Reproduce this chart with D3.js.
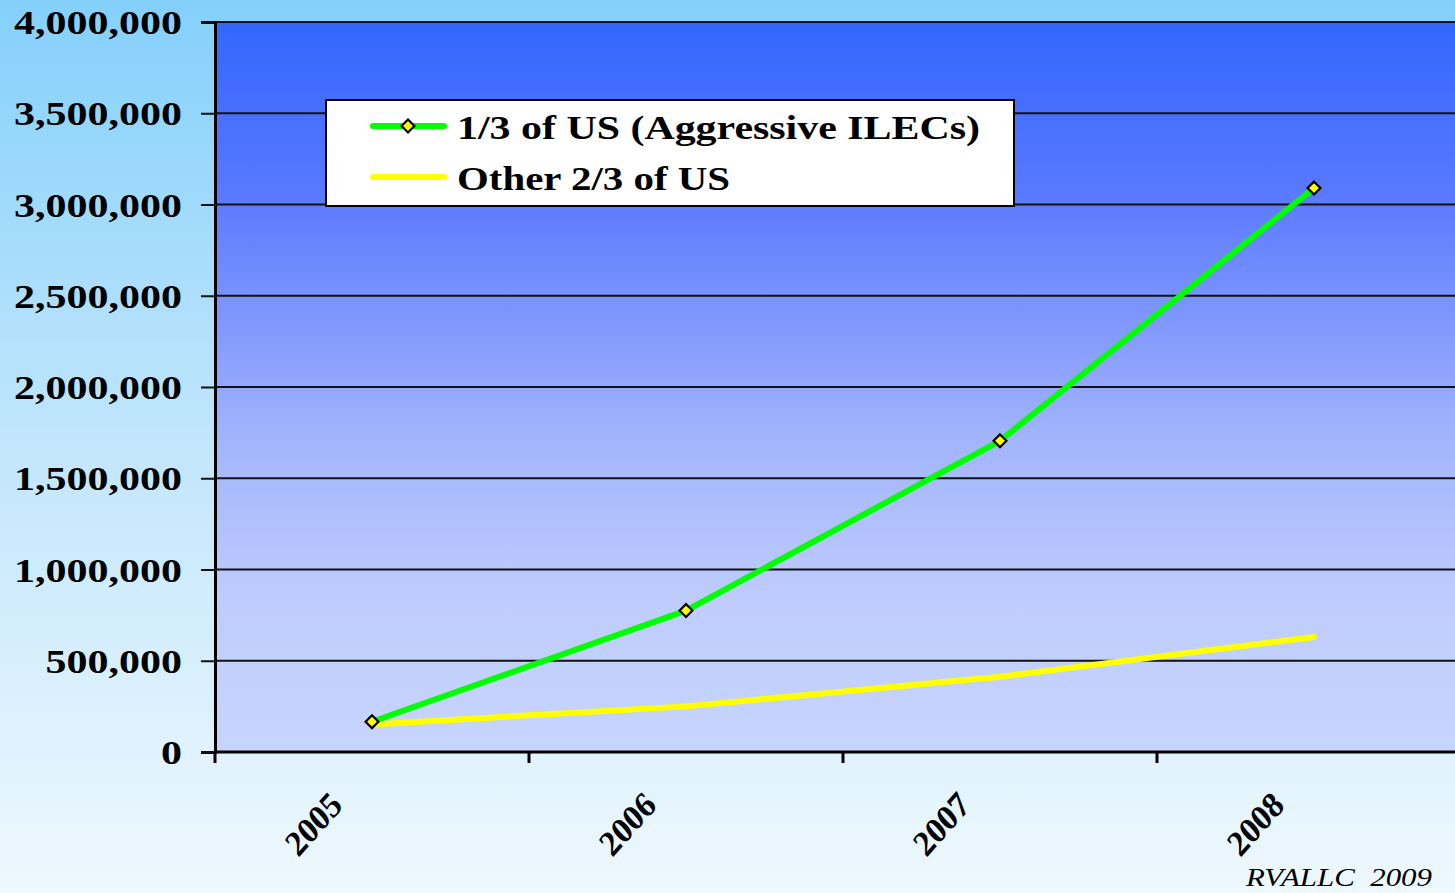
<!DOCTYPE html>
<html>
<head>
<meta charset="utf-8">
<script src="https://cdn.jsdelivr.net/npm/d3@7"></script>
<style>
html, body { margin: 0; padding: 0; overflow: hidden; }
svg { display: block; }
</style>
</head>
<body>
<script>
const categories = ["2005", "2006", "2007", "2008"];
const seriesNames = ["1/3 of US (Aggressive ILECs)", "Other 2/3 of US"];
const aggressiveValues = [166000, 775000, 1705000, 3090000];
const otherValues = [151000, 250000, 412000, 630000];
const yTicks = [0, 500000, 1000000, 1500000, 2000000, 2500000, 3000000, 3500000, 4000000];
const watermark = "RVALLC  2009";

(function () {
const FONT = "'Liberation Serif', 'Times New Roman', Tinos, 'Nimbus Roman', 'Nimbus Roman No9 L', FreeSerif, Times, serif";
const W = 1455, H = 893;
const svg = d3.select("body").append("svg").attr("width", W).attr("height", H);
const defs = svg.append("defs");

const bg = defs.append("linearGradient").attr("id", "bg").attr("x1", 0).attr("y1", 0).attr("x2", 0).attr("y2", 1);
bg.append("stop").attr("offset", 0).attr("stop-color", "#84D0FB");
bg.append("stop").attr("offset", 0.5).attr("stop-color", "#C2E6FC");
bg.append("stop").attr("offset", 1).attr("stop-color", "#EEF8FE");

const pg = defs.append("linearGradient").attr("id", "pg").attr("x1", 0).attr("y1", 0).attr("x2", 0).attr("y2", 1);
pg.append("stop").attr("offset", 0).attr("stop-color", "#3366FF");
pg.append("stop").attr("offset", 0.23).attr("stop-color", "#5878FF");
pg.append("stop").attr("offset", 0.57).attr("stop-color", "#A2B4FC");
pg.append("stop").attr("offset", 0.8).attr("stop-color", "#BFCDFD");
pg.append("stop").attr("offset", 1).attr("stop-color", "#C7D4FE");

svg.append("rect").attr("width", W).attr("height", H).attr("fill", "url(#bg)");

const pLeft = 215, pTop = 22, pBottom = 752, pRight = 1471;
const x = d3.scaleBand().domain(categories).range([pLeft, pRight]).padding(0);
const y = d3.scaleLinear().domain([0, 4000000]).range([pBottom, pTop]);

svg.append("rect").attr("x", pLeft).attr("y", pTop).attr("width", pRight - pLeft).attr("height", pBottom - pTop).attr("fill", "url(#pg)");

// gridlines
svg.append("g").selectAll("line").data(yTicks.filter(d => d > 0)).join("line")
  .attr("x1", pLeft).attr("x2", pRight).attr("y1", d => y(d)).attr("y2", d => y(d))
  .attr("stroke", "#111").attr("stroke-width", 2);

// y axis
const yAxis = svg.append("g").attr("transform", `translate(${pLeft},0)`)
  .call(d3.axisLeft(y).tickValues(yTicks).tickSize(14).tickPadding(0).tickFormat(() => ""));
yAxis.select(".domain").attr("stroke", "#000").attr("stroke-width", 3);
yAxis.selectAll(".tick line").attr("stroke", "#111").attr("stroke-width", 2);

// width of a string in Times-Bold em units (digits 0.5, comma 0.25)
const emWidth = s => [...s].reduce((a, ch) => a + (ch === "," ? 0.25 : 0.5), 0);
const fmt = d3.format(",");
svg.append("g").selectAll("text").data(yTicks).join("text")
  .attr("x", 182).attr("y", d => y(d) + 12)
  .attr("text-anchor", "end")
  .attr("font-family", FONT)
  .attr("font-weight", "bold").attr("font-size", 34).attr("fill", "#000")
  .attr("textLength", d => emWidth(fmt(d)) * 42).attr("lengthAdjust", "spacingAndGlyphs")
  .text(d => fmt(d));

// x axis
const xTickPos = categories.map(c => x(c)).concat([pRight]);
svg.append("line").attr("x1", pLeft).attr("x2", pRight).attr("y1", pBottom).attr("y2", pBottom)
  .attr("stroke", "#000").attr("stroke-width", 3);
svg.append("g").selectAll("line").data(xTickPos).join("line")
  .attr("x1", d => d).attr("x2", d => d).attr("y1", pBottom).attr("y2", pBottom + 11)
  .attr("stroke", "#000").attr("stroke-width", 3);

svg.append("g").selectAll("text").data(categories).join("text")
  .attr("transform", d => `translate(${x(d) + x.bandwidth() / 2 - 28},${pBottom + 55}) scale(0.9,1) rotate(-45)`)
  .attr("text-anchor", "end")
  .attr("font-family", FONT)
  .attr("font-weight", "bold").attr("font-size", 36).attr("fill", "#000")
  .attr("textLength", 72).attr("lengthAdjust", "spacingAndGlyphs")
  .text(d => d);

// lines
const cx = d => x(d) + x.bandwidth() / 2;
const line = d3.line().x(d => cx(d.c)).y(d => y(d.v));
const aggData = categories.map((c, i) => ({ c, v: aggressiveValues[i] }));
const othData = categories.map((c, i) => ({ c, v: otherValues[i] }));

svg.append("path").datum(othData).attr("d", line).attr("fill", "none")
  .attr("stroke", "#FFFF00").attr("stroke-width", 6).attr("stroke-linecap", "round").attr("stroke-linejoin", "round");
svg.append("path").datum(aggData).attr("d", line).attr("fill", "none")
  .attr("stroke", "#00FF00").attr("stroke-width", 6).attr("stroke-linecap", "round").attr("stroke-linejoin", "round");

const diamond = d3.symbol().type(d3.symbolDiamond2).size(105);
svg.append("g").selectAll("path").data(aggData).join("path")
  .attr("transform", d => `translate(${cx(d.c)},${y(d.v)})`)
  .attr("d", diamond).attr("fill", "#FFFF00").attr("stroke", "#000").attr("stroke-width", 2.2);

// legend
const lg = svg.append("g");
lg.append("rect").attr("x", 326).attr("y", 100).attr("width", 688).attr("height", 106)
  .attr("fill", "#fff").attr("stroke", "#000").attr("stroke-width", 2);
const legendColors = ["#00FF00", "#FFFF00"];
const legendY = [126, 177];
const legendWidths = [523, 273];
seriesNames.forEach((name, i) => {
  lg.append("line").attr("x1", 373).attr("x2", 444).attr("y1", legendY[i]).attr("y2", legendY[i])
    .attr("stroke", legendColors[i]).attr("stroke-width", 6).attr("stroke-linecap", "round");
  if (i === 0) {
    lg.append("path").attr("transform", `translate(408,${legendY[i]})`).attr("d", diamond)
      .attr("fill", "#FFFF00").attr("stroke", "#000").attr("stroke-width", 2.2);
  }
  lg.append("text").attr("x", 457).attr("y", legendY[i] + 13)
    .attr("font-family", FONT)
    .attr("font-weight", "bold").attr("font-size", 34).attr("fill", "#000")
    .attr("textLength", legendWidths[i]).attr("lengthAdjust", "spacingAndGlyphs")
    .text(name);
});

// watermark
svg.append("text").attr("x", 1432).attr("y", 886)
  .attr("text-anchor", "end")
  .attr("font-family", FONT)
  .attr("font-style", "italic").attr("font-size", 26).attr("fill", "#000")
  .attr("textLength", 186).attr("lengthAdjust", "spacingAndGlyphs")
  .style("white-space", "pre")
  .text(watermark);
})();
</script>
</body>
</html>
